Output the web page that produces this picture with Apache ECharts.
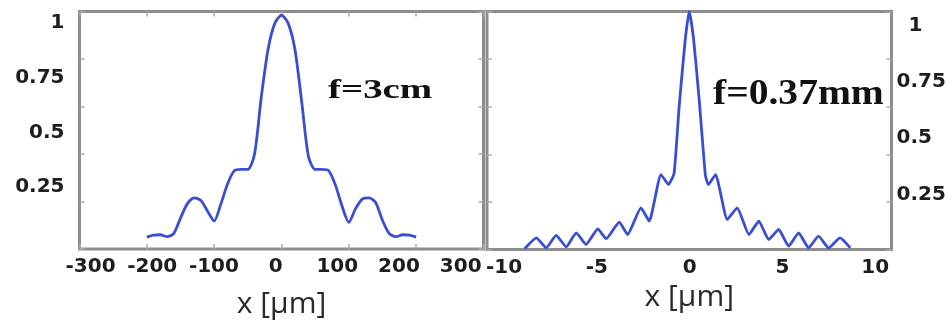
<!DOCTYPE html>
<html>
<head>
<meta charset="utf-8">
<script src="https://cdn.jsdelivr.net/npm/echarts@6/dist/echarts.min.js"></script>
<style>
  html, body { margin: 0; padding: 0; background: #fff; }
  #chart { width: 952px; height: 324px; }
</style>
</head>
<body>
<div id="chart"></div>
<script>
// Focal-spot intensity profiles, normalised to the central peak.

// Panel 1: f = 3 cm, x in µm
const xLong = [-200, -190, -180, -170, -160, -150, -140, -130, -120, -110, -100,
  -90, -80, -70, -60, -50, -40, -30, -20, -10, 0,
  10, 20, 30, 40, 50, 60, 70, 80, 90, 100,
  110, 120, 130, 140, 150, 160, 170, 180, 190, 200];
const iLong = [0.05, 0.058, 0.06, 0.052, 0.065, 0.13, 0.19, 0.215, 0.205, 0.16, 0.118,
  0.19, 0.275, 0.33, 0.335, 0.335, 0.40, 0.64, 0.84, 0.95, 0.985,
  0.95, 0.84, 0.62, 0.39, 0.335, 0.335, 0.33, 0.27, 0.18, 0.112,
  0.17, 0.21, 0.215, 0.195, 0.12, 0.065, 0.052, 0.06, 0.058, 0.05];

// Panel 2: f = 0.37 mm, x in µm
const xShort = [-8.14, -7.56, -7.07, -6.58, -6.08, -5.59, -5.1, -4.52, -4.11, -3.46, -3.05,
  -2.39, -1.98, -1.4, -1.03, -0.75, -0.5, -0.2, 0, 0.22, 0.5, 0.8, 0.95, 1.3,
  1.88, 2.37, 2.95, 3.44, 3.93, 4.42, 4.92, 5.41, 5.9, 6.39, 6.89, 7.46, 7.96];
const iShort = [0.003, 0.049, 0.007, 0.059, 0.011, 0.07, 0.021, 0.087, 0.045, 0.115, 0.063,
  0.175, 0.119, 0.315, 0.273, 0.32, 0.6, 0.88, 1.0, 0.88, 0.62, 0.31, 0.273, 0.315,
  0.126, 0.175, 0.063, 0.119, 0.042, 0.084, 0.014, 0.07, 0.007, 0.056, 0.007, 0.049, 0.007];

// Tick label values
const xLabelsLong = [-300, -200, -100, 0, 100, 200, 300];
const xLabelsShort = [-10, -5, 0, 5, 10];
const yLabels = [0.25, 0.5, 0.75, 1];

const labelFont = { fontFamily: 'DejaVu Sans', fontWeight: 'bold', fontSize: 20, color: '#1e1e1e' };
const tickStyle = { show: true, inside: true, length: 5, lineStyle: { color: '#aaaaaa', width: 1.5 } };

function tickAxis(gridIndex, position, min, max, interval, showTicks) {
  return {
    type: 'value', gridIndex, position, min, max, interval,
    axisLine: { show: false, onZero: false },
    axisTick: showTicks === false ? { show: false } : tickStyle,
    axisLabel: { show: false }, splitLine: { show: false }
  };
}

function labelAxis(gridIndex, position, min, max, values, extra) {
  return Object.assign({
    type: 'value', gridIndex, position, min, max,
    axisLine: { show: false, onZero: false }, axisTick: { show: false }, splitLine: { show: false },
    axisLabel: Object.assign({ customValues: values, showMinLabel: true, showMaxLabel: true }, labelFont)
  }, extra || {});
}

const nameStyle = { fontFamily: 'Open Sans', fontSize: 30, color: '#2a2a2a' };

const chart = echarts.init(document.getElementById('chart'), null, { renderer: 'canvas' });

chart.setOption({
  animation: false,
  backgroundColor: '#ffffff',
  grid: [
    { left: 79.5, top: 11.5, width: 404, height: 238.5, show: true, borderColor: '#8d8d8d', borderWidth: 3, containLabel: false },
    { left: 487, top: 11.5, width: 404.5, height: 238, show: true, borderColor: '#8d8d8d', borderWidth: 3, containLabel: false }
  ],
  xAxis: [
    tickAxis(0, 'bottom', -300, 300, 100),
    tickAxis(0, 'top', -300, 300, 100),
    labelAxis(0, 'bottom', -317.9, 337, xLabelsLong, {
      name: 'x [μm]', nameLocation: 'middle', nameGap: 40, nameTextStyle: nameStyle
    }),
    tickAxis(1, 'bottom', -10, 10, 5, false),
    tickAxis(1, 'top', -10, 10, 5, false),
    labelAxis(1, 'bottom', -10.92, 10.88, xLabelsShort, {
      name: 'x [μm]', nameLocation: 'middle', nameGap: 31, nameTextStyle: nameStyle
    })
  ],
  yAxis: [
    tickAxis(0, 'left', 0, 1, 0.2),
    tickAxis(0, 'right', 0, 1, 0.2),
    labelAxis(0, 'left', -0.0337, 1.053, yLabels, { axisLabel: Object.assign({ customValues: yLabels, margin: 15 }, labelFont) }),
    tickAxis(1, 'left', 0, 1, 0.2),
    tickAxis(1, 'right', 0, 1, 0.2),
    labelAxis(1, 'right', 0.005, 1.0626, yLabels, {
      axisLabel: Object.assign({
        customValues: yLabels, margin: 5,
        formatter: v => (v === 1 ? '{one|1}' : String(v)),
        rich: { one: Object.assign({ padding: [0, 0, 0, 12] }, labelFont) }
      }, labelFont)
    })
  ],
  series: [
    {
      type: 'line', xAxisIndex: 0, yAxisIndex: 0,
      data: xLong.map((x, i) => [x, iLong[i]]),
      showSymbol: false, smooth: 0.25,
      lineStyle: { color: '#3a4ecf', width: 2.8 }
    },
    {
      type: 'line', xAxisIndex: 3, yAxisIndex: 3,
      data: xShort.map((x, i) => [x, iShort[i]]),
      showSymbol: false, smooth: 0.15,
      lineStyle: { color: '#3a4ecf', width: 2.8 }
    }
  ],
  graphic: [
    {
      type: 'text', x: 328, y: 91, scaleX: 1.39,
      style: { text: 'f=3cm', fontFamily: 'Liberation Serif', fontWeight: 'bold', fontSize: 28,
        fill: '#111', textAlign: 'left', textVerticalAlign: 'middle' }
    },
    {
      type: 'text', x: 713, y: 95, scaleX: 1.13,
      style: { text: 'f=0.37mm', fontFamily: 'Liberation Serif', fontWeight: 'bold', fontSize: 35,
        fill: '#111', textAlign: 'left', textVerticalAlign: 'middle' }
    }
  ]
});
</script>
</body>
</html>
